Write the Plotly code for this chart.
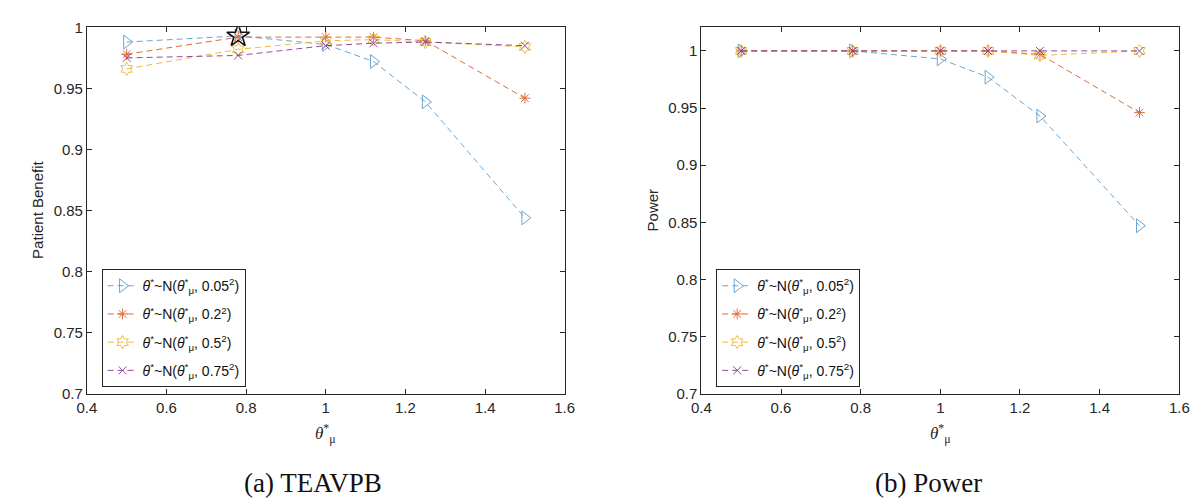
import plotly.graph_objects as go

# ---- data ----
theta_mu = [0.5, 0.78, 1.0, 1.12, 1.25, 1.5]

pb_005 = [0.988, 0.993, 0.986, 0.972, 0.939, 0.844]
pb_02 = [0.978, 0.992, 0.992, 0.992, 0.989, 0.942]
pb_05 = [0.966, 0.982, 0.989, 0.990, 0.988, 0.984]
pb_075 = [0.975, 0.977, 0.985, 0.987, 0.988, 0.985]

pw_005 = [1.0, 1.0, 0.993, 0.977, 0.943, 0.847]
pw_02 = [1.0, 1.0, 1.0, 1.0, 0.997, 0.946]
pw_05 = [1.0, 1.0, 1.0, 1.0, 0.996, 1.0]
pw_075 = [1.0, 1.0, 1.0, 1.0, 1.0, 1.0]

best_x = [0.78]
best_y = [0.993]

series_names = [
    "<i>θ</i><sup>*</sup>~N(<i>θ</i><sup>*</sup><sub>μ</sub>, 0.05<sup>2</sup>)",
    "<i>θ</i><sup>*</sup>~N(<i>θ</i><sup>*</sup><sub>μ</sub>, 0.2<sup>2</sup>)",
    "<i>θ</i><sup>*</sup>~N(<i>θ</i><sup>*</sup><sub>μ</sub>, 0.5<sup>2</sup>)",
    "<i>θ</i><sup>*</sup>~N(<i>θ</i><sup>*</sup><sub>μ</sub>, 0.75<sup>2</sup>)",
]
x_ticks = [0.4, 0.6, 0.8, 1.0, 1.2, 1.4, 1.6]
y_ticks = [0.7, 0.75, 0.8, 0.85, 0.9, 0.95, 1.0]

# ---- styles ----
colors = ["#4F97CC", "#D95319", "#EDB120", "#7E2F8E"]
symbols = ["triangle-right-open", "asterisk-open", "hexagram-open", "x-thin-open"]
msizes = [12, 9, 10, 8]
axis_col = "#262626"

fig = go.Figure()

left = [pb_005, pb_02, pb_05, pb_075]
right = [pw_005, pw_02, pw_05, pw_075]

for i, ys in enumerate(left):
    fig.add_trace(go.Scatter(
        x=theta_mu, y=ys, name=series_names[i], mode="lines+markers",
        legendgroup="L%d" % i,
        line=dict(color=colors[i], width=1, dash="6px,4px"),
        marker=dict(symbol=symbols[i], size=msizes[i], color=colors[i],
                    line=dict(width=1, color=colors[i])),
        opacity=0.85, legend="legend", xaxis="x", yaxis="y"))

fig.add_trace(go.Scatter(
    x=best_x, y=best_y, mode="markers", showlegend=False,
    marker=dict(symbol="star-open", size=17, color="#111111",
                line=dict(width=1.6, color="#111111")),
    xaxis="x", yaxis="y"))

for i, ys in enumerate(right):
    fig.add_trace(go.Scatter(
        x=theta_mu, y=ys, name=series_names[i], mode="lines+markers",
        legendgroup="R%d" % i,
        line=dict(color=colors[i], width=1, dash="6px,4px"),
        marker=dict(symbol=symbols[i], size=msizes[i], color=colors[i],
                    line=dict(width=1, color=colors[i])),
        opacity=0.85, legend="legend2", xaxis="x2", yaxis="y2"))

tickfont = dict(family="Liberation Sans, Arial, sans-serif", size=15, color=axis_col)

def xaxis(domain, anchor):
    return dict(domain=domain, anchor=anchor, range=[0.4, 1.6], tickvals=x_ticks,
                ticks="inside", ticklen=5, tickcolor=axis_col, showline=True,
                linecolor=axis_col, linewidth=1, mirror="ticks", showgrid=False,
                zeroline=False, tickfont=tickfont)

def yaxis(domain, anchor, rng):
    return dict(domain=domain, anchor=anchor, range=rng, tickvals=y_ticks,
                ticks="inside", ticklen=5, tickcolor=axis_col, showline=True,
                linecolor=axis_col, linewidth=1, mirror="ticks", showgrid=False,
                zeroline=False, tickfont=tickfont)

ydom = [0.2216, 0.9786]
legend_font = dict(family="Liberation Sans, Arial, sans-serif", size=14, color="#111111")

fig.update_layout(
    width=1199, height=501,
    margin=dict(l=0, r=0, t=0, b=0),
    paper_bgcolor="white", plot_bgcolor="white",
    xaxis=xaxis([0.0584, 0.4637], "y"),
    yaxis=yaxis(ydom, "x", [0.7, 1.0]),
    xaxis2=xaxis([0.5796, 0.985], "y2"),
    yaxis2=yaxis(ydom, "x2", [0.7, 1.0206]),
    legend=dict(x=0.0709, y=0.479, xanchor="left", yanchor="top",
                bordercolor=axis_col, borderwidth=1, bgcolor="white",
                font=legend_font, tracegroupgap=7, itemwidth=30),
    legend2=dict(x=0.5922, y=0.479, xanchor="left", yanchor="top",
                 bordercolor=axis_col, borderwidth=1, bgcolor="white",
                 font=legend_font, tracegroupgap=7, itemwidth=30),
    showlegend=True,
)

lab_font = dict(family="Liberation Sans, Arial, sans-serif", size=15, color=axis_col)
theta_font = dict(family="Liberation Serif, DejaVu Serif, serif", size=17, color=axis_col)
cap_font = dict(family="Liberation Serif, DejaVu Serif, serif", size=27, color="#111111")

ann = [
    dict(text="Patient Benefit", x=20, y=200, textangle=-90, font=lab_font),
    dict(text="Power", x=645, y=200, textangle=-90, font=lab_font),
    dict(text="<i>θ</i><sup>*</sup><sub>μ</sub>", x=313, y=431, font=theta_font),
    dict(text="<i>θ</i><sup>*</sup><sub>μ</sub>", x=938, y=431, font=theta_font),
    dict(text="(a) TEAVPB", x=300, y=482, font=cap_font),
    dict(text="(b) Power", x=926, y=482, font=cap_font),
]
for a in ann:
    fig.add_annotation(text=a["text"], x=a["x"] / 1199, y=1 - a["y"] / 501,
                       xref="paper", yref="paper", showarrow=False,
                       xanchor="center", yanchor="middle",
                       textangle=a.get("textangle", 0), font=a["font"])

fig.write_html("out.html")
